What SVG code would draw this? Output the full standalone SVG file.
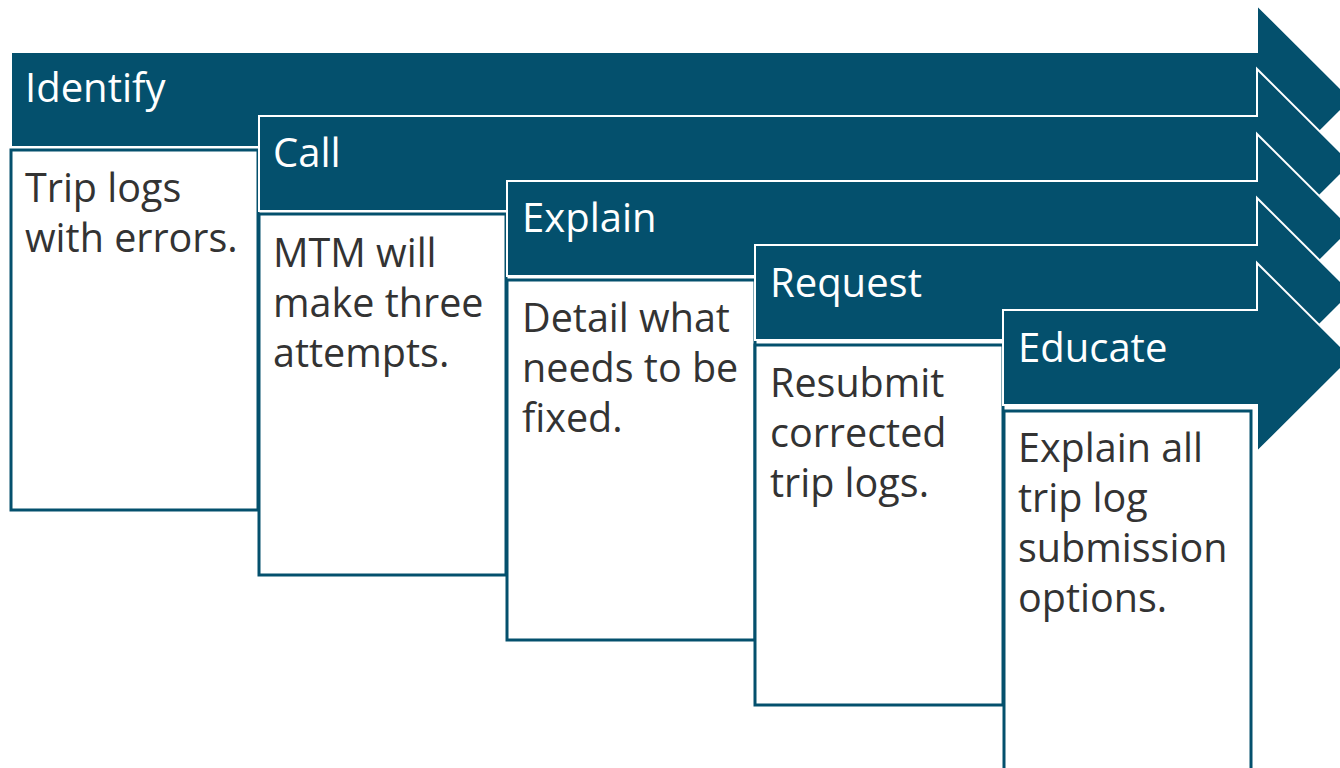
<svg xmlns="http://www.w3.org/2000/svg" width="1340" height="768" viewBox="0 0 1340 768">
<style>
.arr{fill:#04506D;stroke:#ffffff;stroke-width:2;stroke-linejoin:miter}
.box{fill:#ffffff;stroke:#04506D;stroke-width:3}
.t{font-family:"Open Sans","Noto Sans",sans-serif;font-size:40px;fill:#ffffff}
.b{font-family:"Open Sans","Noto Sans",sans-serif;font-size:39.5px;fill:#333333}
</style>
<rect width="1340" height="768" fill="#ffffff"/>
<g id="identify">
<path class="arr" d="M11,52 H1257 V5 L1352,99.5 L1257,194 V147 H11 Z"/>
<rect class="box" x="11" y="150" width="247" height="360"/>
<text class="t" x="25" y="102">Identify</text>
<text class="b" x="25" y="202">Trip logs</text>
<text class="b" x="25" y="252">with errors.</text>
</g>
<g id="call">
<path class="arr" d="M259,116 H1257 V69 L1352,163.5 L1257,258 V211 H259 Z"/>
<rect class="box" x="259" y="214" width="247" height="361"/>
<text class="t" x="273" y="167">Call</text>
<text class="b" x="273" y="267">MTM will</text>
<text class="b" x="273" y="317">make three</text>
<text class="b" x="273" y="367">attempts.</text>
</g>
<g id="explain">
<path class="arr" d="M507,181 H1257 V134 L1352,228.5 L1257,323 V276 H507 Z"/>
<rect class="box" x="507" y="280" width="248" height="360"/>
<text class="t" x="522" y="232">Explain</text>
<text class="b" x="522" y="332">Detail what</text>
<text class="b" x="522" y="382">needs to be</text>
<text class="b" x="522" y="432">fixed.</text>
</g>
<g id="request">
<path class="arr" d="M755,245 H1257 V198 L1352,292.5 L1257,387 V340 H755 Z"/>
<rect class="box" x="755" y="345" width="248" height="360"/>
<text class="t" x="770" y="297">Request</text>
<text class="b" x="770" y="397">Resubmit</text>
<text class="b" x="770" y="447">corrected</text>
<text class="b" x="770" y="497">trip logs.</text>
</g>
<g id="educate">
<path class="arr" d="M1003,310 H1257 V263 L1352,357.5 L1257,452 V405 H1003 Z"/>
<rect class="box" x="1004" y="411" width="247" height="380"/>
<text class="t" x="1018" y="362">Educate</text>
<text class="b" x="1018" y="462">Explain all</text>
<text class="b" x="1018" y="512">trip log</text>
<text class="b" x="1018" y="562">submission</text>
<text class="b" x="1018" y="612">options.</text>
</g>
<g id="connectors"></g>
</svg>
